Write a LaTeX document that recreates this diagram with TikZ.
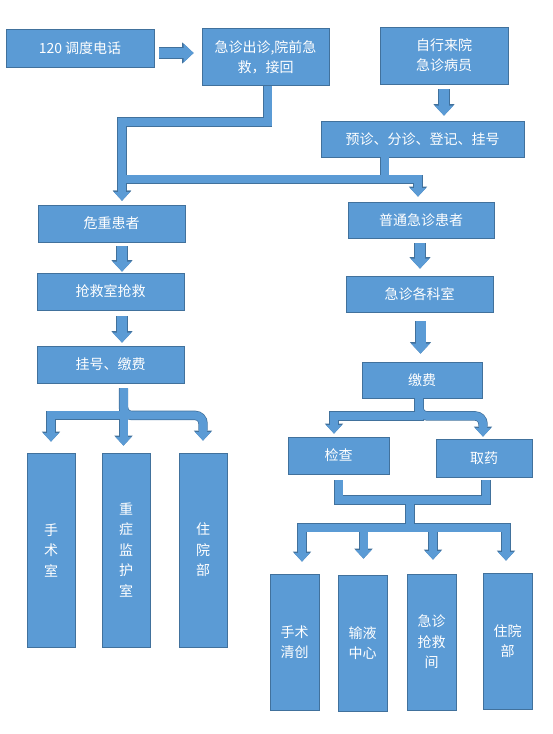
\documentclass[tikz,border=0pt]{standalone}
\usepackage{fontspec}
\setmainfont{Noto Sans CJK SC}
\usetikzlibrary{arrows.meta}
\definecolor{boxfill}{HTML}{5B9BD5}
\definecolor{boxline}{HTML}{41719C}

\begin{document}
\begin{tikzpicture}[
    x=1pt, y=-1pt,
    box/.style={rectangle, draw=boxline, line width=0.8pt, fill=boxfill, text=white, inner sep=0pt, align=center, font=\fontsize{14}{20}\selectfont},
    tall/.style={box, minimum width=48pt, minimum height=194pt, font=\fontsize{14}{20.5}\selectfont},
    low/.style={box, minimum width=49pt, minimum height=136pt, font=\fontsize{14}{20.5}\selectfont},
    edgebar/.style={draw=boxline, line width=9.4pt},
    fillbar/.style={draw=boxfill, line width=8pt},
    edgehead/.style={-{Triangle[width=18.4pt, length=10pt, line width=0pt]}},
    fillhead/.style={-{Triangle[width=16pt, length=8.6pt, line width=0pt]}},
    edgeblock/.style={draw=boxline, line width=11.4pt, -{Triangle[width=21.4pt, length=11.6pt, line width=0pt]}},
    fillblock/.style={draw=boxfill, line width=10pt, -{Triangle[width=19pt, length=10pt, line width=0pt]}}
]
    \useasboundingbox (0,0) rectangle (552,734);

    % Nodes
    \node[box, minimum width=148pt, minimum height=38pt] (call) at (80,48) {120 调度电话};
    \node[box, minimum width=127pt, minimum height=57pt] (out) at (265.5,57) {急诊出诊,院前急\\救，接回};
    \node[box, minimum width=128pt, minimum height=57pt] (self) at (444,55.5) {自行来院\\急诊病员};
    \node[box, minimum width=203pt, minimum height=36pt] (triage) at (422.5,139) {预诊、分诊、登记、挂号};
    \node[box, minimum width=147pt, minimum height=37pt] (crit) at (111.5,223.5) {危重患者};
    \node[box, minimum width=146pt, minimum height=36pt] (normal) at (421,220) {普通急诊患者};
    \node[box, minimum width=147pt, minimum height=37pt] (resus) at (110.5,291.5) {抢救室抢救};
    \node[box, minimum width=147pt, minimum height=36pt] (dept) at (419.5,294) {急诊各科室};
    \node[box, minimum width=147pt, minimum height=37pt] (pay1) at (110.5,364.5) {挂号、缴费};
    \node[box, minimum width=120pt, minimum height=36pt] (pay2) at (422,380) {缴费};
    \node[box, minimum width=101pt, minimum height=37pt] (exam) at (338.5,455.5) {检查};
    \node[box, minimum width=96pt, minimum height=38pt] (drug) at (484,458) {取药};

    \node[tall] (surg1) at (51,550) {手\\术\\室};
    \node[tall] (icu) at (126,550) {重\\症\\监\\护\\室};
    \node[tall] (ward1) at (203,550) {住\\院\\部};

    \node[low] (surg2) at (294.5,642) {手术\\清创};
    \node[low] (infu) at (362.5,643) {输液\\中心};
    \node[low] (er) at (431.5,642) {急诊\\抢救\\间};
    \node[low] (ward2) at (507.5,641) {住院\\部};

    \coordinate (join) at (410,500);
    \coordinate (split) at (410,527.5);

    % Edges (outline pass, then fill pass)
    \foreach \passline/\passhead/\passblock in {edgebar/edgehead/edgeblock, fillbar/fillhead/fillblock} {
        \draw[\passblock, shorten <=5pt, shorten >=8pt] ([yshift=-5pt]call.east) -- ([yshift=-5pt]call.east -| out.west);
        \draw[\passblock, shorten <=5pt, shorten >=5pt] (self.south) -- (self.south |- triage.north);

        \draw[\passline, \passhead, shorten >=4pt] ([xshift=2pt]out.south) -- ++(0,36) -| ([xshift=10.5pt]crit.north);
        \draw[\passline, \passhead, shorten >=4pt] ([xshift=-38pt]triage.south) -- ++(0,22) -| ([xshift=10.5pt]crit.north);
        \draw[\passline, \passhead, shorten >=5pt] ([xshift=-38pt]triage.south) -- ++(0,22) -| ([xshift=-3pt]normal.north);

        \draw[\passblock, shorten <=4pt, shorten >=1pt] ([xshift=10.5pt]crit.south) -- ([xshift=10.5pt]crit.south |- resus.north);
        \draw[\passblock, shorten <=6pt, shorten >=3pt] ([xshift=11.5pt]resus.south) -- ([xshift=11.5pt]resus.south |- pay1.north);

        \draw[\passline, \passhead, shorten <=5pt, shorten >=11pt] ([xshift=13pt]pay1.south) -- ++(0,32) -| (surg1.north);
        \draw[\passline, \passhead, shorten <=5pt, shorten >=7pt] ([xshift=13pt]pay1.south) -- ([xshift=13pt]pay1.south |- icu.north);
        \draw[\passline, \passhead, shorten <=5pt, shorten >=12pt, rounded corners=8pt] ([xshift=13pt]pay1.south) -- ++(0,32) -| (ward1.north);

        \draw[\passblock, shorten <=5pt, shorten >=7pt] ([xshift=-1pt]normal.south) -- ([xshift=-1pt]normal.south |- dept.north);
        \draw[\passblock, shorten <=9pt, shorten >=8pt] ([xshift=1pt]dept.south) -- ([xshift=1pt]dept.south |- pay2.north);

        \draw[\passline, \passhead, shorten >=3pt] ([xshift=-3pt]pay2.south) -- ++(0,17.5) -| ([xshift=-4.5pt]exam.north);
        \draw[\passline, \passhead, shorten >=2pt, rounded corners=8pt] ([xshift=-3pt]pay2.south) -- ++(0,17.5) -| ([xshift=-1pt]drug.north);

        \draw[\passline, shorten <=6pt] (exam.south) |- (join);
        \draw[\passline, shorten <=3pt] ([xshift=2pt]drug.south) |- (join);
        \draw[\passline] (join) -- (split);
        \draw[\passline, \passhead, shorten >=12pt] (split) -| ([xshift=7.5pt]surg2.north);
        \draw[\passline, \passhead, shorten >=16pt] (split) -| ([xshift=1pt]infu.north);
        \draw[\passline, \passhead, shorten >=14pt] (split) -| ([xshift=1.5pt]er.north);
        \draw[\passline, \passhead, shorten >=12pt] (split) -| ([xshift=-1.5pt]ward2.north);
    }
\end{tikzpicture}
\end{document}
